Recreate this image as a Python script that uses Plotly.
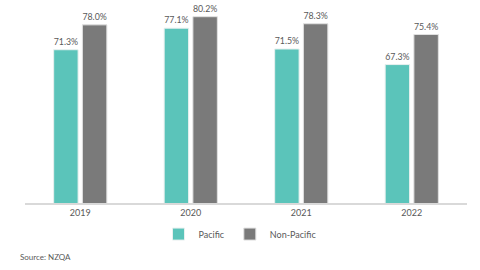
import plotly.graph_objects as go

years = ["2019", "2020", "2021", "2022"]
pacific = [71.3, 77.1, 71.5, 67.3]
non_pacific = [78.0, 80.2, 78.3, 75.4]
series_names = ["Pacific", "Non-Pacific"]
source_text = "Source: NZQA"

font_family = "Lato, 'Open Sans', sans-serif"
text_color = "#595959"

fig = go.Figure()
fig.add_trace(go.Bar(
    x=years, y=pacific, name=series_names[0],
    marker=dict(color="#5BC4BA", line=dict(color="#E8F0EF", width=1)),
    text=[f"{v:.1f}%" for v in pacific], textposition="outside",
    textfont=dict(size=10, color=text_color, family=font_family),
    cliponaxis=False,
))
fig.add_trace(go.Bar(
    x=years, y=non_pacific, name=series_names[1],
    marker=dict(color="#7A7A7A", line=dict(color="#E0E0E0", width=1)),
    text=[f"{v:.1f}%" for v in non_pacific], textposition="outside",
    textfont=dict(size=10, color=text_color, family=font_family),
    cliponaxis=False,
))

fig.update_layout(
    width=480, height=270,
    margin=dict(l=25, r=13, t=0, b=67),
    paper_bgcolor="white", plot_bgcolor="white",
    barmode="group", bargap=0.48, bargroupgap=0.15,
    font=dict(family=font_family, color=text_color, size=9),
    showlegend=True,
    legend=dict(
        orientation="h", x=0.5, xanchor="center", xref="container",
        y=0.133, yanchor="middle", yref="container",
        font=dict(size=9, color=text_color),
        itemwidth=30, traceorder="normal",
    ),
    xaxis=dict(
        showline=True, linecolor="#D9D9D9", linewidth=1.5,
        ticks="", showgrid=False,
        tickfont=dict(size=9, color=text_color, family=font_family),
    ),
    yaxis=dict(
        range=[30, 84.7], visible=False, showgrid=False, zeroline=False,
    ),
    annotations=[dict(
        text=source_text, xref="paper", yref="paper",
        x=-0.016, y=-0.266, xanchor="left", yanchor="middle",
        showarrow=False, font=dict(size=8, color=text_color, family=font_family),
    )],
)

fig.write_html("out.html")
